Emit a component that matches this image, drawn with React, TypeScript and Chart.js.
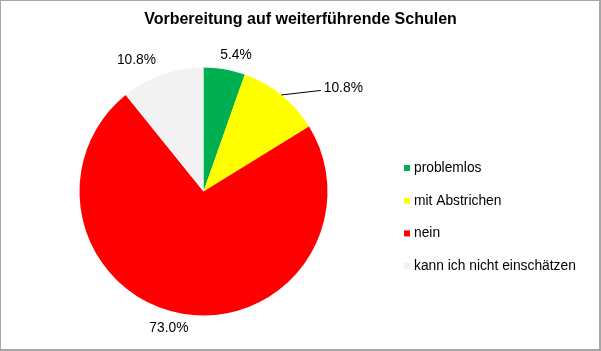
import React, { useEffect, useRef } from "react";
import { Chart, registerables } from "chart.js";

Chart.register(...registerables);

const chartTitle = "Vorbereitung auf weiterführende Schulen";
const categories = ["problemlos", "mit Abstrichen", "nein", "kann ich nicht einschätzen"];
const values = [5.4, 10.8, 73.0, 10.8];
const valueLabels = ["5.4%", "10.8%", "73.0%", "10.8%"];
const sliceColors = ["#00B050", "#FFFF00", "#FF0000", "#F2F2F2"];

// label placement relative to each slice (angle shift in degrees, extra radius in px)
const labelPlacement = [
  { dA: 3.7, dR: 16, leader: false },
  { dA: 14.6, dR: 50, leader: true },
  { dA: 4.5, dR: 17, leader: false },
  { dA: -7.7, dR: 23, leader: false },
];

const FONT = '"Liberation Sans", Arial, sans-serif';

const overlayPlugin = {
  id: "overlay",
  afterDatasetsDraw(chart: any) {
    const ctx = chart.ctx as CanvasRenderingContext2D;
    const meta = chart.getDatasetMeta(0);
    ctx.save();
    // data labels
    ctx.font = `13.8px ${FONT}`;
    ctx.fillStyle = "#000";
    ctx.textAlign = "center";
    ctx.textBaseline = "middle";
    meta.data.forEach((arc: any, i: number) => {
      const p = arc.getProps(["x", "y", "startAngle", "endAngle", "outerRadius"], true);
      const mid = (p.startAngle + p.endAngle) / 2;
      const pl = labelPlacement[i];
      const a = mid + (pl.dA * Math.PI) / 180;
      const r = p.outerRadius + pl.dR;
      const lx = p.x + r * Math.cos(a);
      const ly = p.y + r * Math.sin(a);
      ctx.fillText(valueLabels[i], lx, ly);
      if (pl.leader) {
        const w = ctx.measureText(valueLabels[i]).width;
        const sx = p.x + p.outerRadius * Math.cos(mid);
        const sy = p.y + p.outerRadius * Math.sin(mid);
        ctx.beginPath();
        ctx.strokeStyle = "#000";
        ctx.lineWidth = 1;
        ctx.moveTo(sx, sy);
        ctx.lineTo(lx - w / 2 - 3, ly + 2.5);
        ctx.stroke();
      }
    });
    // title
    ctx.font = `bold 16px ${FONT}`;
    ctx.textAlign = "center";
    ctx.fillText(chartTitle, chart.width / 2, 20);
    // legend
    ctx.font = `13.8px ${FONT}`;
    ctx.textAlign = "left";
    const lx = 404;
    const y0 = 168;
    const step = 32.7;
    categories.forEach((c, i) => {
      const y = y0 + i * step;
      ctx.fillStyle = sliceColors[i];
      ctx.fillRect(lx, y - 3, 6, 6);
      ctx.fillStyle = "#000";
      ctx.fillText(c, lx + 10, y);
    });
    ctx.restore();
  },
};

export default function App() {
  const ref = useRef<HTMLCanvasElement | null>(null);
  useEffect(() => {
    document.body.style.margin = "0";
    const canvas = ref.current!;
    const chart = new Chart(canvas, {
      type: "pie",
      data: {
        labels: categories,
        datasets: [
          {
            data: values,
            backgroundColor: sliceColors,
            borderWidth: 0,
          },
        ],
      },
      options: {
        responsive: false,
        animation: false,
        devicePixelRatio: 1,
        layout: { padding: { left: 79.5, top: 67.5, right: 273.5, bottom: 35.5 } },
        plugins: {
          legend: { display: false },
          title: { display: false },
          tooltip: { enabled: false },
        },
      },
      plugins: [overlayPlugin],
    });
    return () => chart.destroy();
  }, []);
  return (
    <div style={{ position: "relative", width: 601, height: 351, background: "#fff" }}>
      <canvas ref={ref} width={601} height={351} style={{ position: "absolute", left: 0, top: 0 }} />
      <div
        style={{
          position: "absolute",
          left: 0,
          top: 0,
          width: 601,
          height: 351,
          boxSizing: "border-box",
          borderLeft: "1px solid #a6a6a6",
          borderTop: "1px solid #a6a6a6",
          borderRight: "2px solid #a6a6a6",
          borderBottom: "2px solid #a6a6a6",
          pointerEvents: "none",
        }}
      />
    </div>
  );
}
